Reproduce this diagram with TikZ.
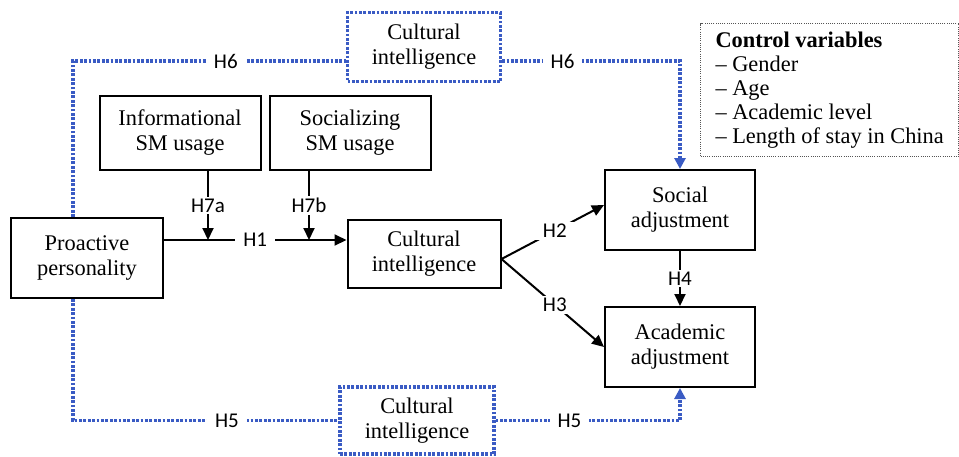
\documentclass[tikz,border=0pt]{standalone}
\usepackage{fontspec}
\setmainfont{Liberation Serif}
\newfontfamily\hypfont{Carlito}
\usetikzlibrary{arrows.meta,calc}
\definecolor{med-blue}{HTML}{3A5BC4}
\definecolor{ctrl-gray}{HTML}{555555}

\begin{document}
\begin{tikzpicture}[x=0.5pt,y=-0.5pt,
  var/.style={draw,line width=1pt,align=center,inner sep=0pt,font=\fontsize{11.2}{12.5}\selectfont},
  medbox/.style={draw=med-blue,line width=1.6pt,dash pattern=on 1.4pt off 0.8pt,align=center,inner sep=0pt,font=\fontsize{11.2}{12.5}\selectfont},
  hyp/.style={font=\hypfont\fontsize{10.5}{12}\selectfont,fill=white,inner xsep=4pt,inner ysep=1pt},
  link/.style={line width=1pt,-{Triangle[length=6pt,width=5.5pt]}},
  medlink/.style={draw=med-blue,line width=1.6pt,dash pattern=on 1.4pt off 0.8pt,-{Triangle[length=5.5pt,width=5.5pt]}}]
  \useasboundingbox (0,0) rectangle (959,456);
  \node[medbox,minimum width=76.5pt,minimum height=34.5pt] (cit) at (424,47) {Cultural\\intelligence};
  \node[var,minimum width=80.5pt,minimum height=37pt] (iu) at (180,133) {Informational\\SM usage};
  \node[var,minimum width=80.5pt,minimum height=37pt] (su) at (350,133) {Socializing\\SM usage};
  \node[var,minimum width=76pt,minimum height=40pt] (pp) at (87,258) {Proactive\\personality};
  \node[var,minimum width=76.5pt,minimum height=34pt] (ci) at (424,254) {Cultural\\intelligence};
  \node[var,minimum width=75pt,minimum height=40pt] (sa) at (680,210) {Social\\adjustment};
  \node[var,minimum width=75pt,minimum height=40pt] (aa) at (680,347) {Academic\\adjustment};
  \node[medbox,minimum width=77pt,minimum height=33.5pt] (cib) at (417,420.5) {Cultural\\intelligence};
  \node[draw=ctrl-gray,line width=0.5pt,dash pattern=on 0.5pt off 0.6pt,anchor=north west,align=left,
    inner xsep=7.5pt,inner ysep=4pt,minimum height=66.5pt,font=\fontsize{11.2}{12}\selectfont] (ctrl) at (700,23)
    {\textbf{Control variables}\\– Gender\\– Age\\– Academic level\\– Length of stay in China};
  \coordinate (h1s) at ([yshift=9pt]pp.east);
  \draw[link] (h1s) -- (h1s -| ci.west) node[hyp,midway] {H1};
  \draw[link] ([xshift=14pt]iu.south) -- ([xshift=14pt]iu.south |- h1s) node[hyp,midway] {H7a};
  \draw[link] ([xshift=-20.5pt]su.south) -- ([xshift=-20.5pt]su.south |- h1s) node[hyp,midway] {H7b};
  \draw[link] ([yshift=-2.5pt]ci.east) -- ([yshift=2.5pt]sa.west) node[hyp,pos=0.52] {H2};
  \draw[link] ([yshift=-2.5pt]ci.east) -- (aa.west) node[hyp,pos=0.52] {H3};
  \draw[link] (sa.south) -- (aa.north) node[hyp,midway] {H4};
  \draw[medlink,-] ($(pp.north)+(-14,0)$) |- ([yshift=-7pt]cit.west) node[hyp,pos=0.78] {H6};
  \draw[medlink] ([yshift=-7pt]cit.east) -| (sa.north) node[hyp,pos=0.17] {H6};
  \draw[medlink,-] ($(pp.south)+(-14,0)$) |- (cib.west) node[hyp,pos=0.79] {H5};
  \draw[medlink] (cib.east) -| (aa.south) node[hyp,pos=0.2] {H5};
\end{tikzpicture}
\end{document}
